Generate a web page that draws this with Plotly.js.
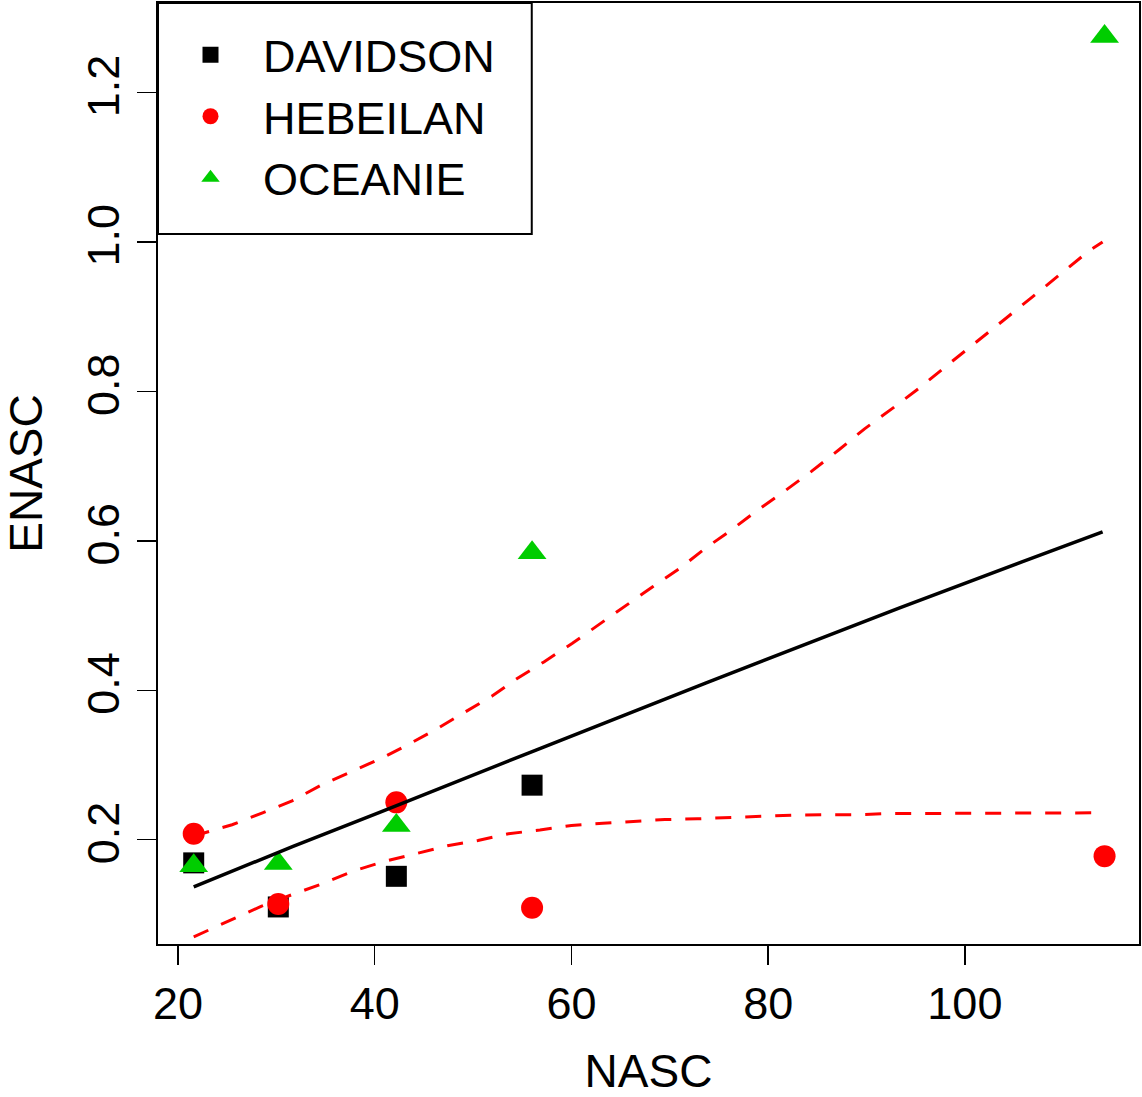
<!DOCTYPE html>
<html>
<head>
<meta charset="utf-8">
<script src="https://cdn.plot.ly/plotly-3.0.1.min.js"></script>
<style>html,body{margin:0;padding:0;background:#fff;}#chart{width:1142px;height:1097px;}</style>
</head>
<body>
<div id="chart"></div>
<script>
// Observations
const davidsonX = [21.6, 30.2, 42.2, 56.0];
const davidsonY = [0.169, 0.110, 0.151, 0.273];
const hebeilanX = [21.6, 30.2, 42.2, 56.0, 114.2];
const hebeilanY = [0.208, 0.114, 0.250, 0.109, 0.178];
const oceanieX = [21.6, 30.2, 42.2, 56.0, 114.2];
const oceanieY = [0.165, 0.168, 0.219, 0.584, 1.275];

// Fitted line
const fitX = [21.6, 31.7, 40.5, 47.6, 56.4, 73.7, 93.3, 105.8, 114.0];
const fitY = [0.137, 0.191, 0.2365, 0.274, 0.320, 0.410, 0.510, 0.572, 0.612];

// Upper band
const upX = [21.6, 25.5, 28.6, 31.6, 34.7, 41.0, 43.5, 46.4, 49.2, 51.9, 54.4, 57.2, 60.1, 62.9, 65.5, 68.3, 71.0, 73.5, 76.3, 78.8, 81.6, 84.4, 87.2, 89.8, 92.6, 95.5, 98.2, 100.8, 103.8, 106.9, 109.9, 112.6, 114.0];
const upY = [0.205, 0.220, 0.236, 0.252, 0.274, 0.311, 0.328, 0.349, 0.371, 0.392, 0.415, 0.438, 0.463, 0.489, 0.514, 0.539, 0.563, 0.589, 0.615, 0.640, 0.666, 0.693, 0.722, 0.750, 0.777, 0.806, 0.835, 0.862, 0.894, 0.927, 0.959, 0.988, 1.000];

// Lower band
const loX = [21.6, 25.4, 28.5, 31.5, 34.65, 37.8, 41.0, 44.1, 47.4, 50.5, 53.6, 56.8, 60.0, 63.2, 66.3, 69.5, 72.8, 76.1, 79.4, 82.6, 85.8, 89.0, 92.4, 103.0, 113.5];
const loY = [0.070, 0.092, 0.111, 0.126, 0.141, 0.158, 0.171, 0.181, 0.192, 0.199, 0.208, 0.213, 0.219, 0.222, 0.2245, 0.227, 0.228, 0.230, 0.231, 0.233, 0.2335, 0.2335, 0.235, 0.236, 0.236];

const xTicks = [20, 40, 60, 80, 100];
const yTicks = [0.2, 0.4, 0.6, 0.8, 1.0, 1.2];
const yTickText = ["0.2", "0.4", "0.6", "0.8", "1.0", "1.2"];

const FONT = "Liberation Sans, Arial, Helvetica, sans-serif";

const traces = [
  {x: davidsonX, y: davidsonY, type: 'scatter', mode: 'markers', name: 'DAVIDSON',
   marker: {symbol: 'square', size: 21, color: '#000000'}},
  {x: hebeilanX, y: hebeilanY, type: 'scatter', mode: 'markers', name: 'HEBEILAN',
   marker: {symbol: 'circle', size: 22, color: '#ff0000'}},
  {x: oceanieX, y: oceanieY, type: 'scatter', mode: 'markers', name: 'OCEANIE',
   marker: {symbol: 'triangle-up', size: 25, color: '#00cd00'}},
  {x: fitX, y: fitY, type: 'scatter', mode: 'lines', showlegend: false,
   line: {color: '#000000', width: 3.5}},
  {x: upX, y: upY, type: 'scatter', mode: 'lines', showlegend: false,
   line: {color: '#ff0000', width: 3, dash: '16px,14px'}},
  {x: loX, y: loY, type: 'scatter', mode: 'lines', showlegend: false,
   line: {color: '#ff0000', width: 3, dash: '16px,14px'}}
];

const layout = {
  width: 1142, height: 1097,
  margin: {l: 158, r: 3, t: 3, b: 153},
  paper_bgcolor: '#ffffff', plot_bgcolor: '#ffffff',
  font: {family: FONT, size: 46, color: '#000000'},
  showlegend: true,
  legend: {
    x: 0, y: 0.983, xanchor: 'left', yanchor: 'top',
    bgcolor: 'rgba(0,0,0,0)', borderwidth: 0,
    font: {family: FONT, size: 45, color: '#000000'},
    itemwidth: 95
  },
  shapes: [
    {type: 'rect', xref: 'paper', yref: 'paper', x0: 0, x1: 0.381, y0: 0.7545, y1: 1,
     line: {color: '#000000', width: 2}, fillcolor: 'rgba(255,255,255,1)', layer: 'below'}
  ],
  xaxis: {
    range: [17.97, 117.7], tickvals: xTicks, ticktext: xTicks.map(String),
    showgrid: false, zeroline: false,
    showline: true, mirror: true, linecolor: '#000000', linewidth: 2,
    ticks: 'outside', ticklen: 19, tickwidth: 1.5, tickcolor: '#000000',
    tickfont: {family: FONT, size: 45, color: '#000000'},
    title: {text: 'NASC', font: {family: FONT, size: 46, color: '#000000'}, standoff: 35},
    automargin: false
  },
  yaxis: {
    range: [0.0604, 1.32], tickvals: yTicks, ticktext: yTickText,
    showgrid: false, zeroline: false,
    showline: true, mirror: true, linecolor: '#000000', linewidth: 2,
    ticks: 'outside', ticklen: 19, tickwidth: 1.5, tickcolor: '#000000',
    tickangle: -90,
    tickfont: {family: FONT, size: 45, color: '#000000'},
    title: {text: 'ENASC', font: {family: FONT, size: 46, color: '#000000'}, standoff: 23},
    automargin: false
  }
};

Plotly.newPlot('chart', traces, layout, {displayModeBar: false, staticPlot: true});
</script>
</body>
</html>
